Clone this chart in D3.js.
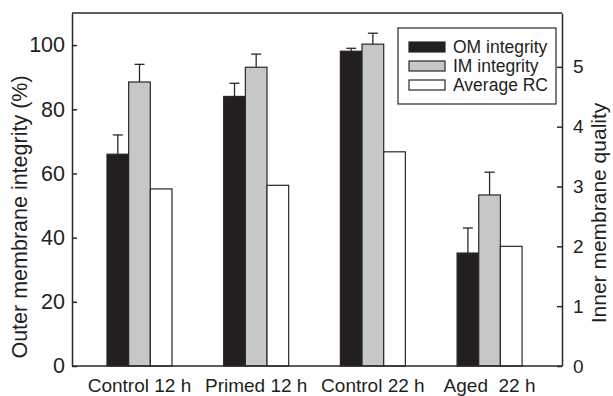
<!DOCTYPE html>
<html>
<head>
<meta charset="utf-8">
<script src="https://cdn.jsdelivr.net/npm/d3@7"></script>
<style>
  body { margin: 0; background: #fff; }
  text { font-family: "Liberation Sans", Arial, sans-serif; fill: #231f20; }
</style>
</head>
<body>
<div id="chart"></div>
<script>
// data
var groups = ["Control 12 h", "Primed 12 h", "Control 22 h", "Aged  22 h"];
var omMean = [66, 84, 98.1, 35.2];
var omErr = [6, 4.1, 0.9, 7.8];
var imMean = [88.5, 93.1, 100.3, 53.3];
var imErr = [5.5, 4.1, 3.4, 7.1];
var rcMean = [2.96, 3.02, 3.58, 2.0];
var leftTicks = [0, 20, 40, 60, 80, 100];
var rightTicks = [0, 1, 2, 3, 4, 5];
var seriesNames = ["OM integrity", "IM integrity", "Average RC"];

var width = 613, height = 396;
var margin = {top: 13, right: 51, bottom: 30, left: 72};
var ink = "#2b2728";
var fills = ["#231f20", "#c6c7c8", "#ffffff"];

var svg = d3.select("#chart").append("svg")
  .attr("width", width)
  .attr("height", height);

var x = d3.scaleBand()
  .domain(groups)
  .range([margin.left, width - margin.right])
  .paddingInner(0.443)
  .paddingOuter(0.321)
  .align(0.467);

var xs = d3.scaleBand()
  .domain([0, 1, 2])
  .range([0, x.bandwidth()]);

var yL = d3.scaleLinear().domain([0, 110]).range([height - margin.bottom, margin.top]);
var yR = d3.scaleLinear().domain([0, 5.9]).range([height - margin.bottom, margin.top]);

// rows for the bars: series index, group, value, which scale
var rows = [];
groups.forEach(function(g, i) {
  rows.push({s: 0, g: g, v: omMean[i], e: omErr[i], y: yL});
  rows.push({s: 1, g: g, v: imMean[i], e: imErr[i], y: yL});
  rows.push({s: 2, g: g, v: rcMean[i], e: null, y: yR});
});

var bars = svg.append("g").attr("class", "bars");
bars.selectAll("rect")
  .data(rows)
  .enter().append("rect")
  .attr("x", function(d) { return x(d.g) + xs(d.s); })
  .attr("y", function(d) { return d.y(d.v); })
  .attr("width", xs.bandwidth())
  .attr("height", function(d) { return d.y(0) - d.y(d.v); })
  .style("fill", function(d) { return fills[d.s]; })
  .style("stroke", ink)
  .style("stroke-width", 1.2);

// error bars (upper only)
var errs = svg.append("g").attr("class", "errors")
  .selectAll("g")
  .data(rows.filter(function(d) { return d.e !== null; }))
  .enter().append("g");

errs.append("line")
  .attr("x1", function(d) { return x(d.g) + xs(d.s) + xs.bandwidth() / 2; })
  .attr("x2", function(d) { return x(d.g) + xs(d.s) + xs.bandwidth() / 2; })
  .attr("y1", function(d) { return d.y(d.v); })
  .attr("y2", function(d) { return d.y(d.v + d.e); });
errs.append("line")
  .attr("x1", function(d) { return x(d.g) + xs(d.s) + xs.bandwidth() / 2 - 5; })
  .attr("x2", function(d) { return x(d.g) + xs(d.s) + xs.bandwidth() / 2 + 5; })
  .attr("y1", function(d) { return d.y(d.v + d.e); })
  .attr("y2", function(d) { return d.y(d.v + d.e); });
errs.selectAll("line")
  .style("stroke", ink)
  .style("stroke-width", 1.3);

// frame
svg.append("line")
  .attr("x1", margin.left).attr("x2", width - margin.right)
  .attr("y1", margin.top).attr("y2", margin.top)
  .style("stroke", ink).style("stroke-width", 1.5);

var axL = svg.append("g")
  .attr("transform", "translate(" + margin.left + ",0)")
  .call(d3.axisLeft(yL).tickValues(leftTicks).tickSize(-5).tickSizeOuter(0).tickPadding(7));
var axR = svg.append("g")
  .attr("transform", "translate(" + (width - margin.right) + ",0)")
  .call(d3.axisRight(yR).tickValues(rightTicks).tickFormat(d3.format("d"))
    .tickSize(-5).tickSizeOuter(0).tickPadding(11));
var axB = svg.append("g")
  .attr("transform", "translate(0," + (height - margin.bottom) + ")")
  .call(d3.axisBottom(x).tickSize(0).tickSizeOuter(0).tickPadding(13));

[axL, axR, axB].forEach(function(a) {
  a.selectAll("path, line").style("stroke", ink).style("stroke-width", 1.5);
  a.selectAll("text").style("fill", "#231f20").style("font-family", "'Liberation Sans', Arial, sans-serif");
});
axL.selectAll("text").style("font-size", "21.5px");
axR.selectAll("text").style("font-size", "19px");
axB.select(".domain").attr("d", "M" + margin.left + ",0H" + (width - margin.right));
axB.selectAll("text")
  .style("font-size", "19px")
  .style("white-space", "pre")
  .attr("dy", "0.68em");

// axis titles
svg.append("text")
  .attr("transform", "translate(27,217) rotate(-90)")
  .attr("text-anchor", "middle")
  .style("font-size", "21.5px")
  .text("Outer membrane integrity (%)");
svg.append("text")
  .attr("transform", "translate(606,213) rotate(-90)")
  .attr("text-anchor", "middle")
  .style("font-size", "21px")
  .text("Inner membrane quality");

// legend
var lg = svg.append("g").attr("transform", "translate(398,28)");
lg.append("rect")
  .attr("width", 158).attr("height", 76)
  .style("fill", "#fff").style("stroke", ink).style("stroke-width", 1.2);
var item = lg.selectAll("g.item")
  .data(seriesNames)
  .enter().append("g")
  .attr("class", "item")
  .attr("transform", function(d, i) { return "translate(11," + (19 + i * 19) + ")"; });
item.append("rect")
  .attr("y", -5).attr("width", 36).attr("height", 10)
  .style("fill", function(d, i) { return fills[i]; })
  .style("stroke", ink).style("stroke-width", 1.2);
item.append("text")
  .attr("x", 44).attr("y", 6)
  .style("font-size", "17.5px")
  .text(function(d) { return d; });
</script>
</body>
</html>
